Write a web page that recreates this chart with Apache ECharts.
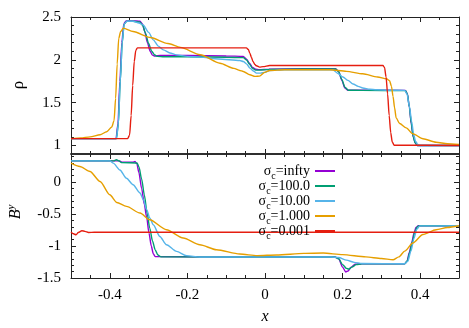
<!DOCTYPE html>
<html>
<head>
<meta charset="utf-8">
<script src="https://cdn.jsdelivr.net/npm/echarts@6/dist/echarts.min.js"></script>
<style>
  html, body { margin: 0; padding: 0; background: #fff; }
  #chart { width: 469px; height: 328px; }
</style>
</head>
<body>
<div id="chart"></div>
<script>
// ticks
const xMajor = [-0.4, -0.2, 0, 0.2, 0.4];
const xMinor = [-0.45, -0.35, -0.3, -0.25, -0.15, -0.1, -0.05, 0.05, 0.1, 0.15, 0.25, 0.3, 0.35, 0.45];
const rhoMajor = [1, 1.5, 2, 2.5];
const rhoMinor = [1.1, 1.2, 1.3, 1.4, 1.6, 1.7, 1.8, 1.9, 2.1, 2.2, 2.3, 2.4];
const byMajor = [-1.5, -1, -0.5, 0];
const byMinor = [-1.4, -1.3, -1.2, -1.1, -0.9, -0.8, -0.7, -0.6, -0.4, -0.3, -0.2, -0.1, 0.1, 0.2, 0.3, 0.4];

const sigmaLabels = ['infty', '100.0', '10.00', '1.000', '0.001'];

// density, sigma_c = infty
const rhoInfX = [-0.5, -0.384, -0.379, -0.374, -0.369, -0.364, -0.358, -0.34, -0.322, -0.316, -0.31, -0.303, -0.296, -0.29, -0.284, -0.27, -0.2, -0.1, -0.056, -0.048, -0.04, -0.032, -0.024, -0.015, 0.01, 0.1, 0.182, 0.19, 0.198, 0.206, 0.214, 0.25, 0.362, 0.367, 0.372, 0.377, 0.382, 0.387, 0.392, 0.5];
const rhoInfY = [1.08, 1.08, 1.25, 1.75, 2.2, 2.42, 2.455, 2.455, 2.45, 2.42, 2.33, 2.2, 2.1, 2.055, 2.045, 2.05, 2.05, 2.045, 2.04, 2.01, 1.96, 1.91, 1.89, 1.885, 1.89, 1.895, 1.895, 1.86, 1.76, 1.67, 1.645, 1.645, 1.643, 1.6, 1.45, 1.25, 1.1, 1.03, 1.0, 1.0];
// sigma_c = 100
const rho100X = [-0.5, -0.383, -0.378, -0.373, -0.368, -0.363, -0.356, -0.34, -0.322, -0.315, -0.308, -0.3, -0.292, -0.285, -0.278, -0.26, -0.2, -0.1, -0.056, -0.048, -0.04, -0.032, -0.024, -0.015, 0.01, 0.1, 0.182, 0.19, 0.198, 0.206, 0.215, 0.25, 0.362, 0.367, 0.372, 0.377, 0.382, 0.387, 0.393, 0.5];
const rho100Y = [1.08, 1.08, 1.25, 1.75, 2.2, 2.42, 2.45, 2.45, 2.44, 2.4, 2.31, 2.19, 2.1, 2.06, 2.04, 2.035, 2.035, 2.03, 2.025, 2.0, 1.95, 1.9, 1.88, 1.88, 1.888, 1.893, 1.893, 1.86, 1.77, 1.68, 1.645, 1.643, 1.64, 1.6, 1.45, 1.26, 1.1, 1.03, 1.0, 1.0];
// sigma_c = 10
const rho10X = [-0.5, -0.383, -0.378, -0.373, -0.368, -0.363, -0.356, -0.34, -0.325, -0.314, -0.3, -0.288, -0.275, -0.262, -0.245, -0.228, -0.2, -0.168, -0.12, -0.065, -0.056, -0.047, -0.039, -0.03, -0.022, -0.012, 0.0, 0.012, 0.05, 0.175, 0.188, 0.201, 0.214, 0.227, 0.24, 0.252, 0.27, 0.287, 0.32, 0.36, 0.366, 0.372, 0.378, 0.383, 0.388, 0.393, 0.398, 0.5];
const rho10Y = [1.08, 1.08, 1.25, 1.75, 2.2, 2.42, 2.45, 2.45, 2.43, 2.407, 2.32, 2.233, 2.16, 2.116, 2.08, 2.058, 2.04, 2.031, 2.01, 1.992, 1.98, 1.95, 1.903, 1.87, 1.845, 1.845, 1.853, 1.876, 1.884, 1.884, 1.84, 1.8, 1.76, 1.717, 1.69, 1.671, 1.657, 1.651, 1.645, 1.643, 1.6, 1.46, 1.28, 1.13, 1.05, 1.015, 1.0, 1.0];
// sigma_c = 1
const rho1X = [-0.5, -0.475, -0.451, -0.425, -0.408, -0.395, -0.389, -0.385, -0.381, -0.377, -0.372, -0.365, -0.34, -0.295, -0.25, -0.218, -0.167, -0.116, -0.08, -0.065, -0.056, -0.039, -0.026, -0.014, -0.001, 0.012, 0.05, 0.167, 0.21, 0.252, 0.29, 0.313, 0.321, 0.326, 0.33, 0.334, 0.338, 0.347, 0.364, 0.381, 0.407, 0.441, 0.47, 0.5];
const rho1Y = [1.08, 1.088, 1.1, 1.125, 1.16, 1.215, 1.29, 1.55, 1.95, 2.25, 2.33, 2.37, 2.33, 2.26, 2.19, 2.145, 2.06, 1.96, 1.9, 1.876, 1.864, 1.826, 1.806, 1.81, 1.853, 1.876, 1.884, 1.884, 1.865, 1.837, 1.8, 1.779, 1.756, 1.69, 1.573, 1.44, 1.322, 1.256, 1.205, 1.136, 1.078, 1.038, 1.02, 1.012];
// sigma_c = 0.001
const rhoLowX = [-0.5, -0.354, -0.349, -0.345, -0.341, -0.337, -0.333, -0.329, -0.1, -0.048, -0.043, -0.039, -0.035, -0.031, -0.026, -0.022, -0.014, -0.005, 0.012, 0.1, 0.3, 0.304, 0.308, 0.312, 0.316, 0.32, 0.324, 0.328, 0.333, 0.5];
const rhoLowY = [1.08, 1.08, 1.12, 1.35, 1.7, 1.98, 2.11, 2.14, 2.14, 2.14, 2.12, 2.077, 2.03, 1.98, 1.945, 1.93, 1.915, 1.92, 1.934, 1.934, 1.934, 1.934, 1.91, 1.8, 1.6, 1.35, 1.15, 1.04, 1.003, 1.0];

// transverse field B^y
const byInfX = [-0.5, -0.375, -0.368, -0.34, -0.335, -0.33, -0.325, -0.318, -0.311, -0.305, -0.299, -0.293, -0.288, -0.283, -0.1, 0.18, 0.19, 0.2, 0.208, 0.214, 0.222, 0.232, 0.25, 0.36, 0.366, 0.372, 0.378, 0.384, 0.389, 0.395, 0.5];
const byInfY = [0.333, 0.333, 0.31, 0.31, 0.325, 0.28, 0.15, -0.1, -0.35, -0.55, -0.8, -1.0, -1.12, -1.165, -1.172, -1.172, -1.2, -1.33, -1.405, -1.39, -1.33, -1.285, -1.277, -1.277, -1.24, -1.1, -0.95, -0.8, -0.71, -0.683, -0.683];
const by100X = [-0.5, -0.39, -0.383, -0.376, -0.37, -0.33, -0.325, -0.318, -0.311, -0.304, -0.297, -0.29, -0.283, -0.276, -0.268, 0.18, 0.19, 0.2, 0.21, 0.216, 0.224, 0.235, 0.25, 0.36, 0.367, 0.373, 0.38, 0.386, 0.392, 0.398, 0.5];
const by100Y = [0.333, 0.333, 0.35, 0.33, 0.305, 0.3, 0.24, 0.05, -0.2, -0.48, -0.72, -0.92, -1.06, -1.14, -1.17, -1.172, -1.2, -1.29, -1.35, -1.36, -1.33, -1.29, -1.278, -1.277, -1.23, -1.1, -0.93, -0.78, -0.7, -0.683, -0.683];
const by10X = [-0.5, -0.4, -0.391, -0.374, -0.357, -0.34, -0.322, -0.313, -0.305, -0.297, -0.288, -0.271, -0.254, -0.228, -0.202, -0.168, 0.17, 0.19, 0.21, 0.23, 0.25, 0.36, 0.368, 0.376, 0.384, 0.391, 0.399, 0.5];
const by10Y = [0.333, 0.333, 0.297, 0.19, 0.06, -0.04, -0.17, -0.28, -0.43, -0.56, -0.667, -0.85, -0.98, -1.084, -1.15, -1.172, -1.172, -1.18, -1.22, -1.255, -1.272, -1.277, -1.24, -1.08, -0.88, -0.74, -0.685, -0.683];
const by1X = [-0.5, -0.477, -0.451, -0.425, -0.4, -0.382, -0.357, -0.322, -0.297, -0.254, -0.211, -0.168, -0.125, -0.065, -0.02, 0.03, 0.1, 0.15, 0.2, 0.26, 0.3, 0.33, 0.345, 0.36, 0.381, 0.407, 0.441, 0.47, 0.5];
const by1Y = [0.297, 0.244, 0.166, 0.01, -0.198, -0.318, -0.38, -0.484, -0.589, -0.745, -0.875, -0.98, -1.058, -1.125, -1.15, -1.14, -1.115, -1.11, -1.135, -1.17, -1.195, -1.214, -1.17, -1.08, -0.953, -0.82, -0.745, -0.71, -0.683];
const byLowX = [-0.5, -0.494, -0.487, -0.481, -0.472, -0.464, -0.455, -0.44, 0.5];
const byLowY = [-0.78, -0.808, -0.823, -0.787, -0.761, -0.77, -0.787, -0.785, -0.785];

const colors = ['#9400d3', '#009e73', '#56b4e9', '#e69f00', '#e51e10'];
const rhoSets = [[rhoInfX, rhoInfY], [rho100X, rho100Y], [rho10X, rho10Y], [rho1X, rho1Y], [rhoLowX, rhoLowY]];
const bySets = [[byInfX, byInfY], [by100X, by100Y], [by10X, by10Y], [by1X, by1Y], [byLowX, byLowY]];

const FONT = 'Liberation Serif';
const frame = '#222';

function makeAxes(dim, gi, min, max, major, minor, labelSide, edgeWidths) {
  const sides = dim === 'x' ? ['bottom', 'top'] : ['left', 'right'];
  const out = [];
  sides.forEach((pos, k) => {
    out.push({
      type: 'value', gridIndex: gi, position: pos, min, max,
      axisLine: { show: true, onZero: false, lineStyle: { color: frame, width: edgeWidths[k] } },
      splitLine: { show: false },
      axisTick: { show: true, inside: true, length: 5, customValues: major, lineStyle: { color: frame } },
      axisLabel: {
        show: pos === labelSide, customValues: major, margin: 10,
        fontFamily: FONT, fontSize: 15, color: '#000'
      }
    });
    out.push({
      type: 'value', gridIndex: gi, position: pos, min, max,
      axisLine: { show: false, onZero: false },
      splitLine: { show: false },
      axisTick: { show: true, inside: true, length: 3, customValues: minor, lineStyle: { color: frame } },
      axisLabel: { show: false }
    });
  });
  return out;
}

const xAxis = [
  ...makeAxes('x', 0, -0.5, 0.5, xMajor, xMinor, null, [1.5, 1]),
  ...makeAxes('x', 1, -0.5, 0.5, xMajor, xMinor, 'bottom', [1, 1.5])
];
const yAxis = [
  ...makeAxes('y', 0, 0.9, 2.5, rhoMajor, rhoMinor, 'left', [1, 1]),
  ...makeAxes('y', 1, -1.5, 0.44, byMajor, byMinor, 'left', [1, 1])
];

const series = [];
[rhoSets, bySets].forEach((sets, gi) => {
  sets.forEach(([xs, ys], i) => {
    series.push({
      type: 'line',
      name: 'σc=' + sigmaLabels[i],
      xAxisIndex: gi * 4,
      yAxisIndex: gi * 4,
      data: xs.map((x, j) => [x, ys[j]]),
      symbol: 'none',
      smooth: 0.25,
      smoothMonotone: 'x',
      lineStyle: { color: colors[i], width: 1.4 },
      itemStyle: { color: colors[i] },
      animation: false
    });
  });
});

const chart = echarts.init(document.getElementById('chart'), null, { renderer: 'canvas' });
chart.setOption({
  animation: false,
  backgroundColor: '#fff',
  grid: [
    { left: 71, right: 10, top: 17, height: 137 },
    { left: 71, right: 10, top: 154, height: 124 }
  ],
  xAxis,
  yAxis,
  legend: {
    orient: 'vertical',
    align: 'right',
    right: 134,
    top: 164,
    padding: 0,
    icon: 'rect',
    itemWidth: 20,
    itemHeight: 2,
    itemGap: -2.5,
    data: sigmaLabels.map(s => 'σc=' + s),
    formatter: name => '{s|σ}{sub|c}{s|=' + name.slice(3) + '}',
    textStyle: {
      fontFamily: FONT, fontSize: 14, color: '#000',
      rich: {
        s: { fontFamily: FONT, fontSize: 14, lineHeight: 13, verticalAlign: 'middle', color: '#000' },
        sub: { fontFamily: FONT, fontSize: 10, lineHeight: 8, padding: [7, 0, 0, 0], verticalAlign: 'top', color: '#000' }
      }
    }
  },
  graphic: [
    { type: 'text', x: 19, y: 85, rotation: Math.PI / 2,
      style: { text: 'ρ', font: '17px "Liberation Serif"', fill: '#000', align: 'center', verticalAlign: 'middle' } },
    { type: 'text', x: 15, y: 212, rotation: Math.PI / 2,
      style: {
        text: '{b|B}{sup|y}', fill: '#000', align: 'center', verticalAlign: 'middle',
        rich: {
          b: { font: 'italic 16px "Liberation Serif"', verticalAlign: 'bottom', lineHeight: 18 },
          sup: { font: 'italic 11px "Liberation Serif"', verticalAlign: 'top', lineHeight: 11 }
        }
      } },
    { type: 'text', x: 265, y: 317,
      style: { text: 'x', font: 'italic 16px "Liberation Serif"', fill: '#000', align: 'center', verticalAlign: 'middle' } }
  ],
  series
});
</script>
</body>
</html>
